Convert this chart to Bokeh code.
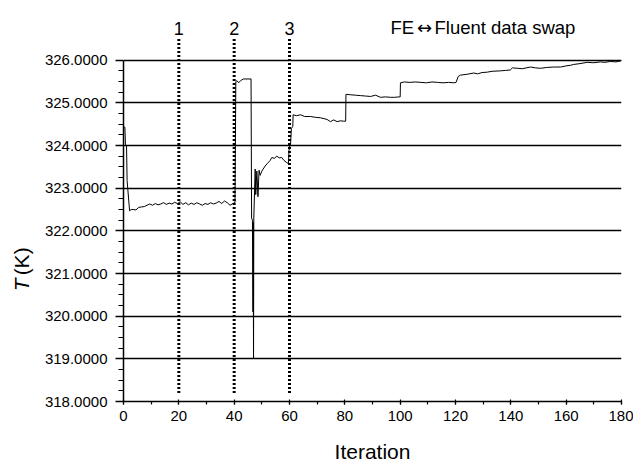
from bokeh.plotting import figure
from bokeh.layouts import row
from bokeh.models import FixedTicker, PrintfTickFormatter, Label, Range1d
from bokeh.core.properties import value
from bokeh.embed import file_html
from bokeh.resources import INLINE
import math

# ---- data ----
iteration = [
    0.2, 0.5, 0.7, 1.1, 1.3, 2.2, 2.8, 3.5, 4.5, 5.5, 6.5, 7.5, 8.5, 9.5,
    10.5, 11.5, 12.5, 13.5, 14.5, 15.5, 16.5, 17.5, 18.5, 19.5,
    20.5, 21.5, 22.5, 23.5, 24.5, 25.5, 26.5, 27.5, 28.5, 29.5,
    30.5, 31.5, 32.5, 33.5, 34.5, 35.5, 36.5, 37.5, 38.5, 39.5, 40.3,
    40.6, 41.0, 41.6, 42.5, 43.4, 46.1, 46.3, 46.6, 46.8, 46.9, 46.95,
    47.0, 47.1, 47.6, 47.8, 48.2, 48.6, 49.0, 49.4, 50.0, 51.2,
    52.0, 53.0, 53.6, 54.5, 55.4, 56.3, 57.2, 58.0, 59.0, 59.6,
    59.9, 60.4, 60.7, 61.2, 61.3,
    62.5, 64.0, 65.5, 67.6, 69.5, 71.2, 72.5, 73.6, 74.8, 76.0, 77.2, 78.5, 79.6, 80.3,
    80.4, 82.0, 83.8, 85.7, 87.5, 89.3, 91.1, 92.9, 94.7, 96.5, 98.0, 99.5, 100.0,
    100.1, 101.5, 103.5, 105.5, 107.5, 109.5, 111.5, 113.5, 115.5, 117.5, 119.5, 120.2,
    121.0, 121.8, 124.2, 126.6, 128.0, 129.6, 131.5, 133.2, 136.2, 138.0,
    139.8, 140.6, 142.5, 144.1, 147.1, 149.0, 150.7, 153.0, 155.5, 158.0,
    160.3, 161.5, 162.7, 165.0, 167.6, 170.0, 172.4, 174.0, 176.0, 178.0, 180.0,
]
temperature = [
    324.43, 324.43, 324.02, 324.00, 323.18, 322.47, 322.50, 322.50, 322.49, 322.55, 322.56, 322.57, 322.60, 322.63,
    322.60, 322.64, 322.61, 322.63, 322.66, 322.62, 322.65, 322.63, 322.67, 322.64,
    322.68, 322.62, 322.66, 322.61, 322.65, 322.62, 322.66, 322.63, 322.60, 322.64,
    322.62, 322.66, 322.63, 322.65, 322.69, 322.64, 322.70, 322.66, 322.60, 322.64, 322.66,
    325.50, 325.52, 325.47, 325.53, 325.56, 325.56, 322.30, 322.25, 320.10, 322.20, 320.15,
    319.00, 322.30, 323.45, 322.85, 323.40, 322.80, 323.42, 323.30, 323.40, 323.52,
    323.58, 323.65, 323.72, 323.70, 323.75, 323.71, 323.72, 323.65, 323.60, 323.58,
    323.95, 324.05, 324.40, 324.45, 324.72,
    324.70, 324.72, 324.68, 324.68, 324.66, 324.65, 324.63, 324.61, 324.56, 324.60, 324.56, 324.58, 324.57, 324.57,
    325.20, 325.19, 325.18, 325.17, 325.16, 325.15, 325.18, 325.13, 325.14, 325.13, 325.13, 325.14, 325.14,
    325.47, 325.49, 325.48, 325.49, 325.48, 325.47, 325.49, 325.48, 325.47, 325.48, 325.47, 325.48,
    325.62, 325.65, 325.67, 325.70, 325.68, 325.71, 325.72, 325.74, 325.75, 325.76,
    325.77, 325.82, 325.81, 325.80, 325.84, 325.82, 325.81, 325.83, 325.84, 325.84,
    325.87, 325.88, 325.90, 325.92, 325.95, 325.94, 325.96, 325.95, 325.97, 325.96, 325.99,
]
assert len(iteration) == len(temperature)

swap_iterations = [20, 40, 60]
swap_labels = ["1", "2", "3"]
y_ticks = [318, 319, 320, 321, 322, 323, 324, 325, 326]
x_ticks = [0, 20, 40, 60, 80, 100, 120, 140, 160, 180]
title_parts = ["FE", "\u2194", "Fluent data swap"]
y_label_parts = ["T", "(K)"]

FONT = "Liberation Sans"

# ---- narrow strip holding the rotated y-axis title ----
lab = figure(width=40, height=465, output_backend="svg", toolbar_location=None,
             x_range=Range1d(0, 40), y_range=Range1d(0, 465),
             x_axis_location=None, y_axis_location=None, min_border=0)
lab.outline_line_color = None
lab.xgrid.visible = False
lab.ygrid.visible = False
lab.add_layout(Label(x=21, y=131, text=y_label_parts[0], angle=math.pi / 2,
                     text_align="left", text_baseline="middle", text_font=FONT,
                     text_font_size="21px", text_font_style="italic", text_color="black"))
lab.add_layout(Label(x=21, y=150, text=y_label_parts[1], angle=math.pi / 2,
                     text_align="left", text_baseline="middle", text_font=FONT,
                     text_font_size="21px", text_color="black"))

# ---- main chart ----
p = figure(width=593, height=465, output_backend="svg", toolbar_location=None,
           x_range=Range1d(0, 180), y_range=Range1d(318, 327.165),
           min_border_left=83, min_border_right=12, min_border_top=10, min_border_bottom=60)
p.outline_line_color = None
p.background_fill_color = "white"
p.border_fill_color = "white"

p.xgrid.visible = False
p.ygrid.ticker = FixedTicker(ticks=y_ticks)
p.ygrid.grid_line_color = "black"
p.ygrid.grid_line_width = 1.5

y_minor = [318 + 0.25 * i for i in range(33) if i % 4]
p.yaxis.ticker = FixedTicker(ticks=y_ticks, minor_ticks=y_minor)
p.yaxis.bounds = (318, 326)
p.yaxis.formatter = PrintfTickFormatter(format="%.4f")
p.yaxis.major_label_text_font = FONT
p.yaxis.major_label_text_font_size = "15px"
p.yaxis.major_label_text_color = "black"
p.yaxis.major_tick_out = 8
p.yaxis.major_tick_in = 0
p.yaxis.minor_tick_out = 5
p.yaxis.minor_tick_in = 0
p.yaxis.axis_line_width = 1.5
p.yaxis.major_tick_line_width = 1.5
p.yaxis.minor_tick_line_width = 1.2
p.yaxis.major_label_standoff = 8

p.xaxis.ticker = FixedTicker(ticks=x_ticks, minor_ticks=list(range(0, 181, 10)))
p.xaxis.major_label_text_font = FONT
p.xaxis.major_label_text_font_size = "15px"
p.xaxis.major_label_text_color = "black"
p.xaxis.major_tick_out = 3
p.xaxis.major_tick_in = 2
p.xaxis.minor_tick_out = 3
p.xaxis.minor_tick_in = 0
p.xaxis.axis_line_width = 1.5
p.xaxis.major_tick_line_width = 1.2
p.xaxis.minor_tick_line_width = 1.2
p.xaxis.major_label_standoff = 6
p.xaxis.axis_label = "Iteration"
p.xaxis.axis_label_text_font = FONT
p.xaxis.axis_label_text_font_size = "21px"
p.xaxis.axis_label_text_font_style = "normal"
p.xaxis.axis_label_text_color = "black"
p.xaxis.axis_label_standoff = 16

p.segment(x0=swap_iterations, y0=318.2, x1=swap_iterations, y1=326.5,
          line_color="black", line_width=3, line_dash="2 2")
p.text(x=swap_iterations, y=326.75, text=swap_labels, text_align="center",
       text_baseline="alphabetic", text_font=value(FONT), text_font_size="18px",
       text_color="black")
p.text(x=[96.5], y=[326.77], text=[title_parts[0]], text_align="left",
       text_baseline="alphabetic", text_font=value(FONT), text_font_size="18.5px",
       text_color="black")
p.text(x=[96.5], y=[326.77], text=[title_parts[1]], x_offset=34, text_align="center",
       text_baseline="alphabetic", text_font=value("DejaVu Sans"), text_font_size="18px",
       text_color="black")
p.text(x=[96.5], y=[326.77], text=[title_parts[2]], x_offset=44, text_align="left",
       text_baseline="alphabetic", text_font=value(FONT), text_font_size="18.5px",
       text_color="black")

p.line(iteration, temperature, line_color="black", line_width=1)

layout = row(lab, p, spacing=0)
open("out.html", "w").write(file_html(layout, INLINE))
